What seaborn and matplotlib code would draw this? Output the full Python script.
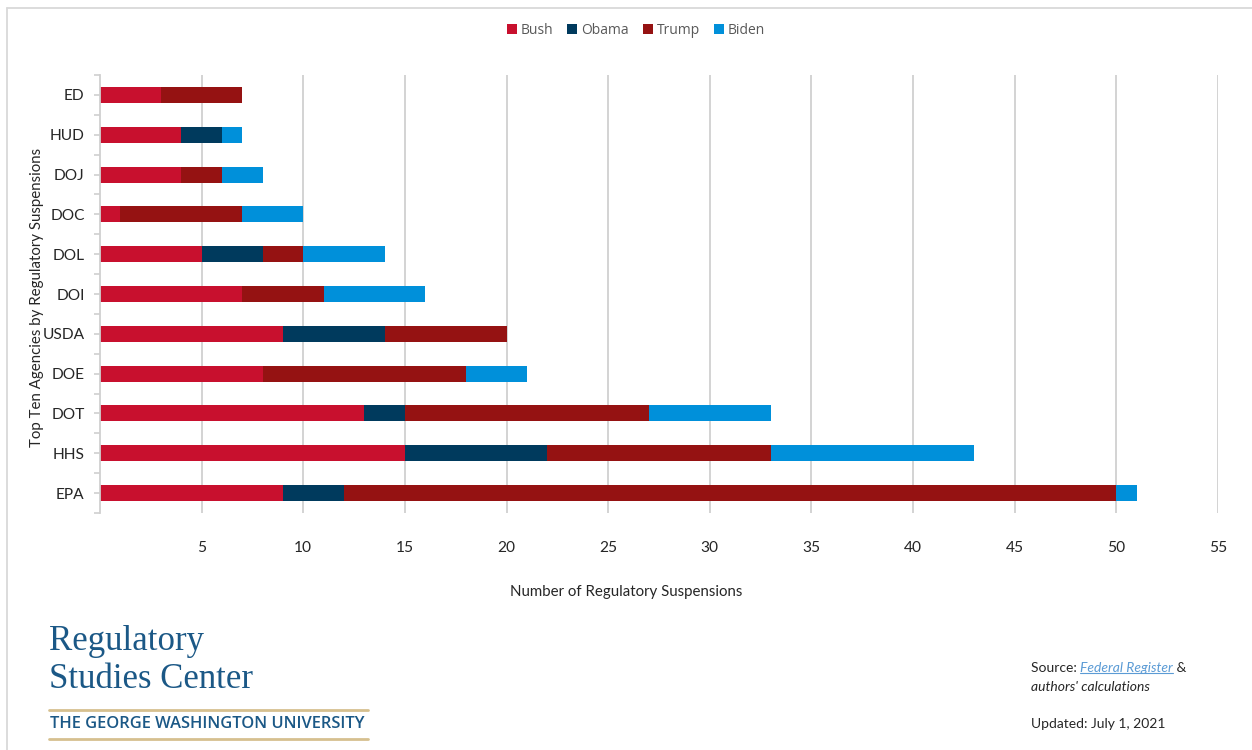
import matplotlib
matplotlib.use("Agg")
import matplotlib.pyplot as plt
import numpy as np
import pandas as pd
import seaborn as sns
from matplotlib.lines import Line2D
from matplotlib.patches import Patch

agencies = ["ED", "HUD", "DOJ", "DOC", "DOL", "DOI", "USDA", "DOE", "DOT", "HHS", "EPA"]
bush = [3, 4, 4, 1, 5, 7, 9, 8, 13, 15, 9]
obama = [0, 2, 0, 0, 3, 0, 5, 0, 2, 7, 3]
trump = [4, 0, 2, 6, 2, 4, 6, 10, 12, 11, 38]
biden = [0, 1, 2, 3, 4, 5, 0, 3, 6, 10, 1]

presidents = ["Bush", "Obama", "Trump", "Biden"]
colors = {"Bush": "#C8102E", "Obama": "#003A5D", "Trump": "#951212", "Biden": "#0090DA"}
x_ticks = [5, 10, 15, 20, 25, 30, 35, 40, 45, 50, 55]


def main():
    sns.set_theme(style="white")
    plt.rcParams['font.family'] = ['Lato', 'DejaVu Sans']
    fs = 10.8

    df = pd.DataFrame({"Agency": agencies, "Bush": bush, "Obama": obama,
                       "Trump": trump, "Biden": biden})
    # cumulative totals so that drawing from the largest down gives a stacked look
    cum = df[presidents].cumsum(axis=1)
    cum["Agency"] = df["Agency"]

    fig = plt.figure(figsize=(12.52, 7.5), dpi=100)
    ax = fig.add_axes([100 / 1252, 1 - 513 / 750, 1118 / 1252, 438 / 750])

    for p in reversed(presidents):
        sns.barplot(data=cum, x=p, y="Agency", order=agencies, color=colors[p],
                    width=0.4, saturation=1, ax=ax, linewidth=0, zorder=3)

    ax.set_xlim(0, 55)
    ax.set_ylim(10.5, -0.5)
    ax.set_xticks(x_ticks)
    ax.set_xticklabels([str(t) for t in x_ticks])
    ax.grid(axis="x", color="#D0D0D0", linewidth=1.3, zorder=0)
    ax.grid(axis="y", visible=False)
    for s in ["top", "right", "bottom"]:
        ax.spines[s].set_visible(False)
    ax.spines["left"].set_color("#D0D0D0")
    ax.spines["left"].set_linewidth(1.3)
    ax.spines["left"].set_zorder(4)

    ax.set_yticks(np.arange(-0.5, 11, 1), minor=True)
    ax.tick_params(axis="y", which="both", length=4, color="#D0D0D0", width=1.2,
                   left=True, labelsize=fs + 0.4, labelcolor="#262626", pad=7)
    ax.tick_params(axis="x", length=0, labelsize=fs + 0.4, labelcolor="#262626", pad=20)

    ax.set_xlabel("")
    ax.set_ylabel("")
    fig.text(37 / 1252, 1 - 297 / 750, "Top Ten Agencies by Regulatory Suspensions",
             rotation=90, ha="center", va="center", fontsize=fs, color="#262626")

    fig.text(0.5, 1 - 592 / 750, "Number of Regulatory Suspensions", ha="center",
             va="center", fontsize=fs, color="#262626")

    handles = [Patch(facecolor=colors[p], edgecolor="none") for p in presidents]
    fig.legend(handles, presidents, loc="center", bbox_to_anchor=(636 / 1252, 1 - 30 / 750),
               ncol=4, frameon=False, handlelength=0.7, handleheight=0.7,
               handletextpad=0.3, columnspacing=1.0,
               prop={"family": "Open Sans", "size": 10}, labelcolor="#595959")

    # frame lines on top and left
    fig.add_artist(Line2D([7 / 1252, 1], [1 - 8 / 750, 1 - 8 / 750], color="#D9D9D9",
                          linewidth=1.3, transform=fig.transFigure))
    fig.add_artist(Line2D([7 / 1252, 7 / 1252], [0, 1 - 8 / 750], color="#D9D9D9",
                          linewidth=1.3, transform=fig.transFigure))

    # logo block
    blue = "#1B5886"
    fig.text(49 / 1252, 1 - 641 / 750, "Regulatory", fontsize=25, color=blue,
             family="Liberation Serif", va="center", ha="left")
    fig.text(49 / 1252, 1 - 680 / 750, "Studies Center", fontsize=25, color=blue,
             family="Liberation Serif", va="center", ha="left")
    for yy in (710, 739):
        fig.add_artist(Line2D([49 / 1252, 368 / 1252], [1 - yy / 750, 1 - yy / 750],
                              color="#D6C08F", linewidth=2, transform=fig.transFigure))
    fig.text(50 / 1252, 1 - 724 / 750, "THE GEORGE WASHINGTON UNIVERSITY", fontsize=11.9,
             color=blue, family="Open Sans", weight="semibold", va="center", ha="left")

    # source block
    t1 = fig.text(1031 / 1252, 1 - 668 / 750, "Source: ", fontsize=10, color="#262626",
                  va="center", ha="left")
    t2 = ax.annotate("Federal Register", xy=(1, 0), xycoords=t1, va="bottom", ha="left",
                     fontsize=10, style="italic", color="#5B9BD5", annotation_clip=False)
    ax.annotate(" &", xy=(1, 0), xycoords=t2, va="bottom", ha="left",
                fontsize=10, color="#262626", annotation_clip=False)
    fig.text(1031 / 1252, 1 - 687 / 750, "authors' calculations", fontsize=10,
             style="italic", color="#262626", va="center", ha="left")
    fig.text(1031 / 1252, 1 - 724 / 750, "Updated: July 1, 2021", fontsize=10,
             color="#262626", va="center", ha="left")

    fig.canvas.draw()
    bb = t2.get_window_extent().transformed(fig.transFigure.inverted())
    fig.add_artist(Line2D([bb.x0, bb.x1], [bb.y0 + 0.001, bb.y0 + 0.001], color="#5B9BD5",
                          linewidth=0.8, transform=fig.transFigure))

    fig.savefig("out.png", dpi=100, facecolor="white")


if __name__ == "__main__":
    main()
